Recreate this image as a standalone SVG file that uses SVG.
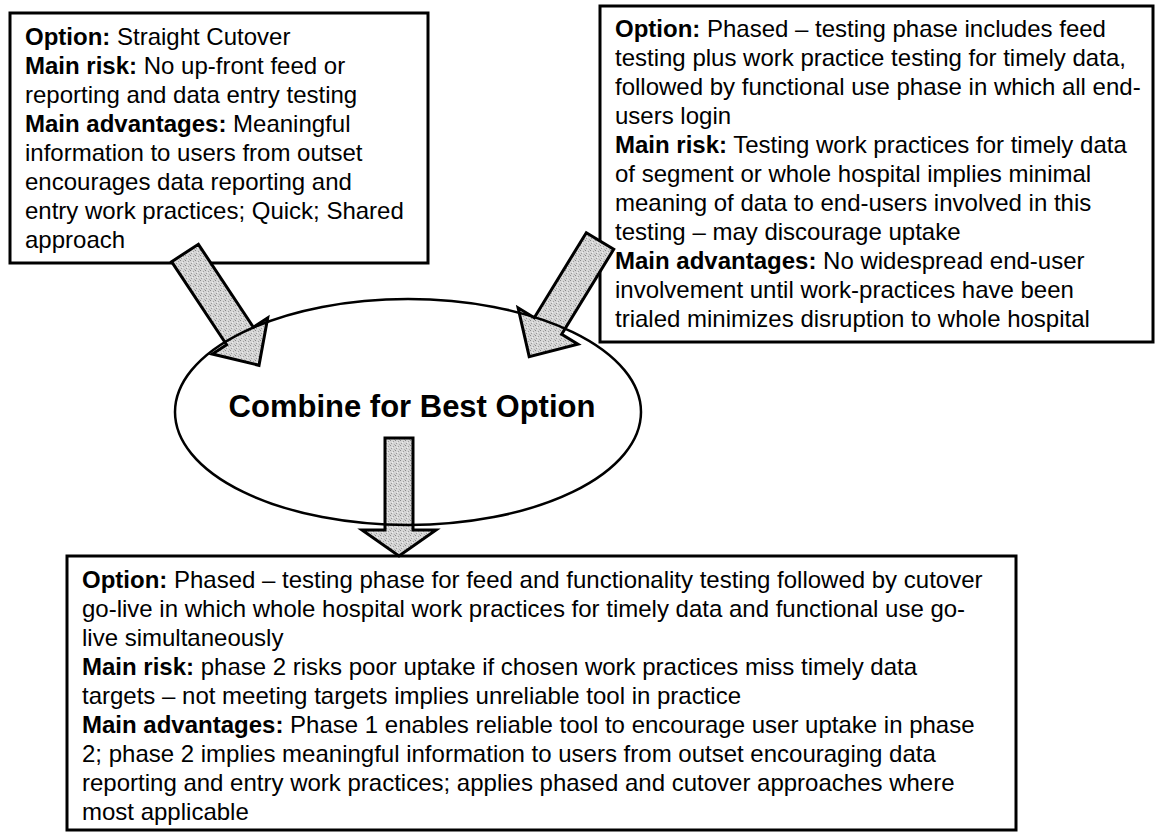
<svg xmlns="http://www.w3.org/2000/svg" width="1157" height="833" viewBox="0 0 1157 833">
<defs>
<pattern id="stipple" width="5" height="5" patternUnits="userSpaceOnUse">
<rect width="5" height="5" fill="#d6d6d6"/>
<rect x="0" y="0" width="1" height="1" fill="#8a8a8a"/>
<rect x="3" y="1" width="1" height="1" fill="#a0a0a0"/>
<rect x="1" y="3" width="1" height="1" fill="#9a9a9a"/>
<rect x="4" y="4" width="1" height="1" fill="#b0b0b0"/>
<rect x="2" y="2" width="1" height="1" fill="#efefef"/>
</pattern>
<style>
.box{fill:#fff;stroke:#000;stroke-width:3}
.t{font-family:"Liberation Sans",Arial,Helvetica,sans-serif;font-size:24px;fill:#000}
.b{font-weight:bold}
.arrow{fill:url(#stipple);stroke:#000;stroke-width:3;stroke-linejoin:miter}
.ell{fill:none;stroke:#000;stroke-width:2.5}
.title{font-family:"Liberation Sans",Arial,Helvetica,sans-serif;font-size:31px;font-weight:bold;fill:#000}
</style>
</defs>
<rect width="1157" height="833" fill="#fff"/>
<g id="node-straight-cutover">
<rect class="box" x="10" y="13" width="418" height="250"/>
<text class="t" x="25" y="45"><tspan class="b">Option:</tspan> Straight Cutover</text>
<text class="t" x="25" y="74"><tspan class="b">Main risk:</tspan> No up-front feed or</text>
<text class="t" x="25" y="103">reporting and data entry testing</text>
<text class="t" x="25" y="132"><tspan class="b">Main advantages:</tspan> Meaningful</text>
<text class="t" x="25" y="161">information to users from outset</text>
<text class="t" x="25" y="190">encourages data reporting and</text>
<text class="t" x="25" y="219">entry work practices; Quick; Shared</text>
<text class="t" x="25" y="248">approach</text>
</g>
<g id="node-phased">
<rect class="box" x="600" y="6" width="553" height="336"/>
<text class="t" x="615" y="37"><tspan class="b">Option:</tspan> Phased – testing phase includes feed</text>
<text class="t" x="615" y="66">testing plus work practice testing for timely data,</text>
<text class="t" x="615" y="95">followed by functional use phase in which all end-</text>
<text class="t" x="615" y="124">users login</text>
<text class="t" x="615" y="153"><tspan class="b">Main risk:</tspan> Testing work practices for timely data</text>
<text class="t" x="615" y="182">of segment or whole hospital implies minimal</text>
<text class="t" x="615" y="211">meaning of data to end-users involved in this</text>
<text class="t" x="615" y="240">testing – may discourage uptake</text>
<text class="t" x="615" y="269"><tspan class="b">Main advantages:</tspan> No widespread end-user</text>
<text class="t" x="615" y="298">involvement until work-practices have been</text>
<text class="t" x="615" y="327">trialed minimizes disruption to whole hospital</text>
</g>
<g id="node-best">
<rect class="box" x="67" y="556" width="949" height="274"/>
<text class="t" x="82" y="588"><tspan class="b">Option:</tspan> Phased – testing phase for feed and functionality testing followed by cutover</text>
<text class="t" x="82" y="617">go-live in which whole hospital work practices for timely data and functional use go-</text>
<text class="t" x="82" y="646">live simultaneously</text>
<text class="t" x="82" y="675"><tspan class="b">Main risk:</tspan> phase 2 risks poor uptake if chosen work practices miss timely data</text>
<text class="t" x="82" y="704">targets – not meeting targets implies unreliable tool in practice</text>
<text class="t" x="82" y="733"><tspan class="b">Main advantages:</tspan> Phase 1 enables reliable tool to encourage user uptake in phase</text>
<text class="t" x="82" y="762">2; phase 2 implies meaningful information to users from outset encouraging data</text>
<text class="t" x="82" y="791">reporting and entry work practices; applies phased and cutover approaches where</text>
<text class="t" x="82" y="820">most applicable</text>
</g>
<g id="connectors">
<polygon class="arrow" points="171.6,261.7 198.4,244.3 253.4,327.3 267.7,318 259,365.3 212.3,354 226.6,344.7"/>
<polygon class="arrow" points="586.3,232.7 613.7,249.3 561.7,334.3 577.9,344.2 529.2,356.7 518.1,307.8 534.3,317.7"/>
<polygon class="arrow" points="385,438 413,438 413,530 436,530 399,556 362,530 385,530"/>
</g>
<g id="node-combine">
<ellipse class="ell" cx="408" cy="412" rx="233" ry="113"/>
<text class="title" x="412" y="417" text-anchor="middle">Combine for Best Option</text>
</g>
</svg>
